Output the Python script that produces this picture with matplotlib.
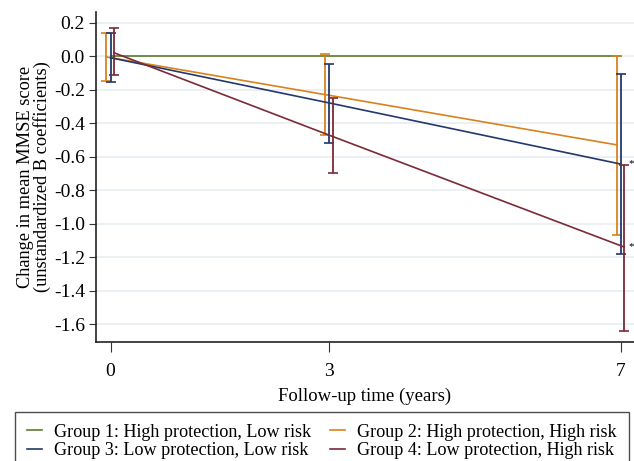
import matplotlib
matplotlib.use("Agg")
import matplotlib.pyplot as plt

plt.rcParams['font.family'] = ['Liberation Serif', 'DejaVu Serif']
plt.rcParams['axes.unicode_minus'] = False

years = [0, 3, 7]
labels = ["Group 1: High protection, Low risk",
          "Group 2: High protection, High risk",
          "Group 3: Low protection, Low risk",
          "Group 4: Low protection, High risk"]

g1_mean = [0.0, 0.0, 0.0]

g2_mean = [-0.005, -0.23, -0.53]
g2_lo = [-0.15, -0.47, -1.07]
g2_hi = [0.14, 0.01, 0.0]

g3_mean = [-0.01, -0.28, -0.645]
g3_lo = [-0.155, -0.52, -1.18]
g3_hi = [0.135, -0.045, -0.11]

g4_mean = [0.02, -0.48, -1.14]
g4_lo = [-0.115, -0.70, -1.64]
g4_hi = [0.165, -0.25, -0.65]

yticks = [0.2, 0.0, -0.2, -0.4, -0.6, -0.8, -1.0, -1.2, -1.4, -1.6]

colors = ['#5b7b2f', '#d9821e', '#23386b', '#7b2a36']
offsets = [0.0, -0.06, 0.0, 0.045]

fig = plt.figure(figsize=(6.34, 4.61), dpi=100)
ax = fig.add_axes([96 / 634, 1 - 342 / 461, 1 - 96 / 634, (342 - 12) / 461])

handles = []
h, = ax.plot(years, g1_mean, color=colors[0], lw=1.2)
handles.append(h)

groups = [(g2_mean, g2_lo, g2_hi), (g3_mean, g3_lo, g3_hi), (g4_mean, g4_lo, g4_hi)]
for i, (m, lo, hi) in enumerate(groups, start=1):
    x = [t + offsets[i] for t in years]
    err = [[a - b for a, b in zip(m, lo)], [b - a for a, b in zip(m, hi)]]
    h, = ax.plot(x, m, color=colors[i], lw=1.2)
    ax.errorbar(x, m, yerr=err, fmt='none', ecolor=colors[i], elinewidth=1.3,
                capsize=3.5, capthick=1.2)
    handles.append(h)

# significance markers at the right edge
ax.text(7.18, g3_mean[2], '*', fontsize=8, va='center', ha='right')
ax.text(7.18, g4_mean[2], '*', fontsize=8, va='center', ha='right')

ax.set_xlim(-0.2, 7.18)
ax.set_ylim(-1.707, 0.263)
ax.set_xticks(years)
ax.set_yticks(yticks)
ax.set_yticklabels([f"{v:.1f}" for v in yticks])
ax.tick_params(axis='both', labelsize=14, direction='out', color='#333333')
ax.tick_params(axis='x', length=7, pad=8)
ax.tick_params(axis='y', length=5, pad=3)
ax.grid(axis='y', color='#e6eef1', lw=1.2)
ax.set_axisbelow(True)
for s in ['top', 'right']:
    ax.spines[s].set_visible(False)
for s in ['left', 'bottom']:
    ax.spines[s].set_linewidth(1.2)
    ax.spines[s].set_color('#222222')

ax.set_xlabel("Follow-up time (years)", fontsize=13.5, labelpad=6)
ax.set_ylabel("Change in mean MMSE score\n(unstandardized B coefficients)",
              fontsize=13.2, linespacing=0.95, labelpad=2)

order = [0, 2, 1, 3]
leg = fig.legend([handles[k] for k in order], [labels[k] for k in order],
                 loc='upper left', bbox_to_anchor=(15 / 634, 1 - 412 / 461),
                 ncol=2, fontsize=13.1, frameon=True, fancybox=False,
                 edgecolor='#222222', handlelength=0.86, handletextpad=0.65,
                 columnspacing=1.0, borderpad=0.65, labelspacing=0.08,
                 borderaxespad=0)
leg.get_frame().set_linewidth(1.0)

fig.savefig("out.png", dpi=100)
